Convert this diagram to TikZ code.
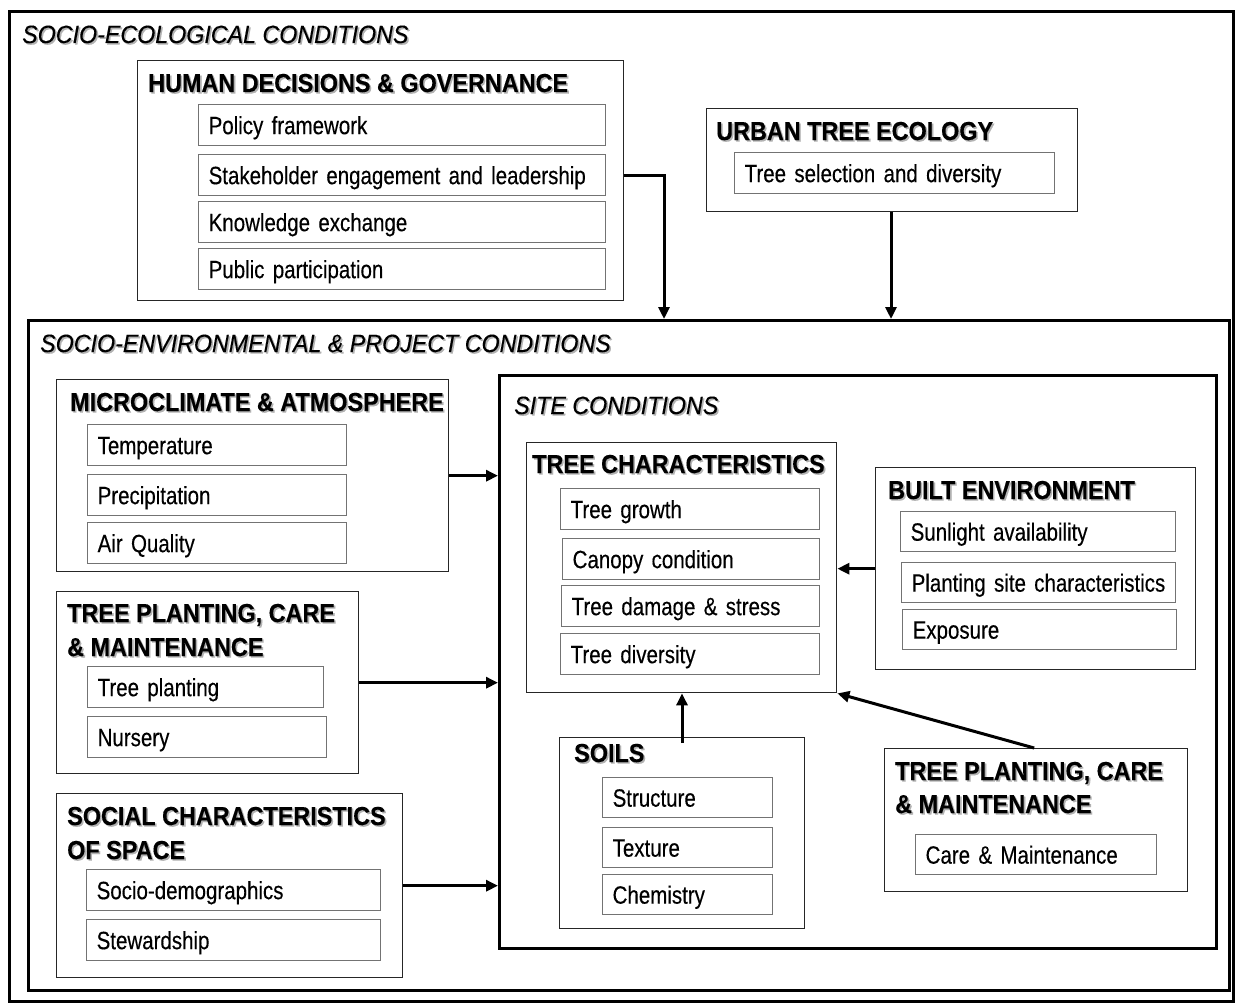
\documentclass[tikz,border=0pt]{standalone}
\usepackage{fontspec}
\setmainfont{Liberation Sans}[FakeStretch=0.82,FakeBold=0.3]
\newfontfamily\hdrfont{Liberation Sans}[FakeStretch=0.9,FakeBold=0.3]
\newfontfamily\labfont{Liberation Sans}[FakeStretch=0.93,FakeBold=0.2]
\usetikzlibrary{arrows.meta}
\newcommand\shd[1]{\makebox[0pt][l]{\hspace{1.6pt}\raisebox{-1.6pt}{\textcolor{black!30}{#1}}}#1}
\newcommand\itmfnt{\fontsize{25}{28}\selectfont}
\newcommand\hdrfnt{\hdrfont\bfseries\fontsize{26}{34}\selectfont}
\newcommand\labfnt{\labfont\itshape\fontsize{25}{28}\selectfont}
\tikzset{
  thick box/.style={draw=black, line width=3pt, anchor=north west, inner sep=0pt},
  cont/.style={draw=black!85, line width=1.4pt, anchor=north west, inner sep=0pt},
  itm/.style={draw=black!55, line width=1.3pt, anchor=north west, inner xsep=10pt, inner ysep=0pt,
     align=left, text height=22pt, text depth=4pt, font=\itmfnt},
  hdr/.style={anchor=base west, inner sep=0pt, font=\hdrfnt},
  lab/.style={anchor=base west, inner sep=0pt, font=\labfnt},
  arr/.style={line width=3pt, -{Triangle[length=12pt,width=11pt]}},
}
\begin{document}
\begin{tikzpicture}[x=1pt,y=-1pt]
\useasboundingbox (0,0) rectangle (1238,1006);
% outer
\node[thick box, minimum width=1224pt, minimum height=990pt] (outer) at (8,10) {};
\node[lab] (lsec) at (22,43) {\shd{SOCIO-ECOLOGICAL CONDITIONS}};
% human decisions
\node[cont, minimum width=486pt, minimum height=240pt] (hdg) at (137,60) {};
\node[hdr] (hhdg) at (148,92) {\shd{HUMAN DECISIONS \& GOVERNANCE}};
\node[itm, text width=387pt, minimum height=41pt] (pf) at (198,104) {\mbox{Policy framework}};
\node[itm, text width=387pt, minimum height=41pt] (st) at (198,154) {\mbox{Stakeholder engagement and leadership}};
\node[itm, text width=387pt, minimum height=41pt] (ke) at (198,201) {\mbox{Knowledge exchange}};
\node[itm, text width=387pt, minimum height=41pt] (pp) at (198,248) {\mbox{Public participation}};
% urban tree ecology
\node[cont, minimum width=371pt, minimum height=103pt] (ute) at (706,108) {};
\node[hdr] (hute) at (716,140) {\shd{URBAN TREE ECOLOGY}};
\node[itm, text width=300pt, minimum height=41pt] (tsd) at (734,152) {\mbox{Tree selection and diversity}};
% socio-environmental
\node[thick box, minimum width=1201pt, minimum height=670pt] (sep) at (27,319) {};
\node[lab] (lsep) at (40,352) {\shd{SOCIO-ENVIRONMENTAL \& PROJECT CONDITIONS}};
% microclimate
\node[cont, minimum width=392pt, minimum height=192pt] (mic) at (56,379) {};
\node[hdr] (hmic) at (70,411) {\shd{MICROCLIMATE \& ATMOSPHERE}};
\node[itm, text width=239pt, minimum height=41pt] (tmp) at (87,424) {\mbox{Temperature}};
\node[itm, text width=239pt, minimum height=41pt] (pre) at (87,474) {\mbox{Precipitation}};
\node[itm, text width=239pt, minimum height=41pt] (aq) at (87,522) {\mbox{Air Quality}};
% tree planting left
\node[cont, minimum width=302pt, minimum height=182pt] (tpl) at (56,591) {};
\node[hdr] (htpla) at (67,622) {\shd{TREE PLANTING, CARE}};
\node[hdr] (htplb) at (67,656) {\shd{\& MAINTENANCE}};
\node[itm, text width=216pt, minimum height=41pt] (tpg) at (87,666) {\mbox{Tree planting}};
\node[itm, text width=219pt, minimum height=41pt] (nur) at (87,716) {\mbox{Nursery}};
% social characteristics
\node[cont, minimum width=346pt, minimum height=184pt] (soc) at (56,793) {};
\node[hdr] (hsoca) at (67,825) {\shd{SOCIAL CHARACTERISTICS}};
\node[hdr] (hsocb) at (67,859) {\shd{OF SPACE}};
\node[itm, text width=274pt, minimum height=41pt] (sd) at (86,869) {\mbox{Socio-demographics}};
\node[itm, text width=274pt, minimum height=41pt] (sw) at (86,919) {\mbox{Stewardship}};
% site conditions
\node[thick box, minimum width=717pt, minimum height=573pt] (site) at (498,374) {};
\node[lab] (lsite) at (514,414) {\shd{SITE CONDITIONS}};
% tree characteristics
\node[cont, minimum width=310pt, minimum height=250pt] (tc) at (526,442) {};
\node[hdr] (htc) at (532,473) {\shd{TREE CHARACTERISTICS}};
\node[itm, text width=239pt, minimum height=41pt] (tg) at (560,488) {\mbox{Tree growth}};
\node[itm, text width=237pt, minimum height=41pt] (cc) at (562,538) {\mbox{Canopy condition}};
\node[itm, text width=238pt, minimum height=41pt] (tds) at (561,585) {\mbox{Tree damage \& stress}};
\node[itm, text width=239pt, minimum height=41pt] (tdv) at (560,633) {\mbox{Tree diversity}};
% built environment
\node[cont, minimum width=320pt, minimum height=202pt] (be) at (875,467) {};
\node[hdr] (hbe) at (888,499) {\shd{BUILT ENVIRONMENT}};
\node[itm, text width=255pt, minimum height=40pt] (sun) at (900,511) {\mbox{Sunlight availability}};
\node[itm, text width=254pt, minimum height=40pt] (psc) at (901,562) {\mbox{Planting site characteristics}};
\node[itm, text width=254pt, minimum height=40pt] (exp) at (902,609) {\mbox{Exposure}};
% soils
\node[cont, minimum width=245pt, minimum height=191pt] (soil) at (559,737) {};
\node[hdr] (hsoil) at (574,762) {\shd{SOILS}};
\node[itm, text width=150pt, minimum height=40pt] (str) at (602,777) {\mbox{Structure}};
\node[itm, text width=150pt, minimum height=40pt] (tex) at (602,827) {\mbox{Texture}};
\node[itm, text width=150pt, minimum height=40pt] (chm) at (602,874) {\mbox{Chemistry}};
% tree planting right
\node[cont, minimum width=303pt, minimum height=143pt] (tpr) at (884,748) {};
\node[hdr] (htpra) at (895,780) {\shd{TREE PLANTING, CARE}};
\node[hdr] (htprb) at (895,813) {\shd{\& MAINTENANCE}};
\node[itm, text width=221pt, minimum height=40pt] (cm) at (915,834) {\mbox{Care \& Maintenance}};
% helper coordinates
\coordinate (k1) at (664,0);
\coordinate (k2) at (891,0);
\coordinate (k3) at (682,0);
% arrows
\draw[arr] (hdg.east |- st.east) -| (k1 |- sep.north);
\draw[arr] (k2 |- ute.south) -- (k2 |- sep.north);
\draw[arr] (mic.east) -- (mic.east -| site.west);
\draw[arr] (tpl.east) -- (tpl.east -| site.west);
\draw[arr] (soc.east) -- (soc.east -| site.west);
\draw[arr] (be.west) -- (be.west -| tc.east);
\draw[arr] ([yshift=-6pt]k3 |- soil.north) -- (k3 |- tc.south);
\draw[arr] ([xshift=-2pt]tpr.north) -- (tc.south east);
\end{tikzpicture}
\end{document}
